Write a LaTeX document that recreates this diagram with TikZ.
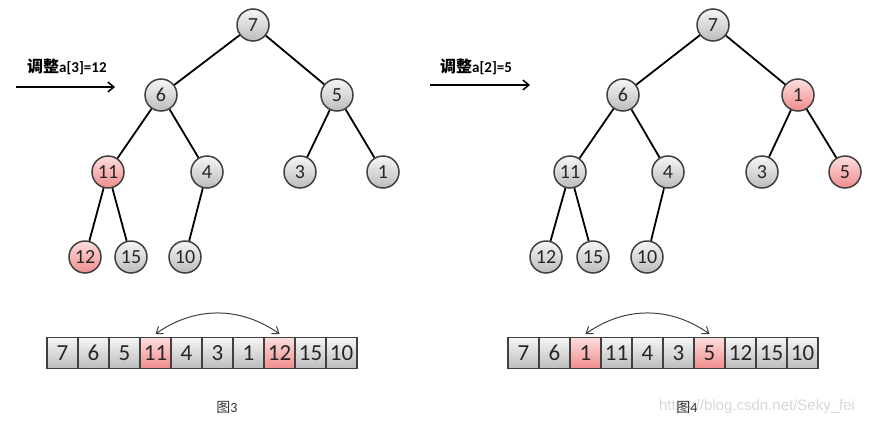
\documentclass[tikz,border=0pt]{standalone}
\usepackage{fontspec}
\setmainfont{Carlito}
\newfontfamily\cjk{Noto Sans CJK SC}
\newfontfamily\wmfont{Liberation Sans}
\usepackage{tikz}
\usetikzlibrary{arrows.meta,positioning,calc}
\definecolor{NodeEdge}{RGB}{ 64,  64,  64}
\definecolor{GrayTop} {RGB}{246, 246, 246}
\definecolor{GrayBot} {RGB}{188, 188, 188}
\definecolor{PinkTop} {RGB}{253, 222, 222}
\definecolor{PinkBot} {RGB}{240, 140, 140}
\definecolor{MarkGray}{RGB}{215, 215, 215}

\tikzset{
  heapnode/.style={circle, draw=NodeEdge, line width=1.5pt, minimum size=32pt,
    inner sep=0pt, top color=GrayTop, bottom color=GrayBot,
    font=\fontsize{20}{20}\selectfont, text=black!85},
  hotnode/.style={heapnode, top color=PinkTop, bottom color=PinkBot},
  cell/.style={rectangle, draw=NodeEdge, line width=1.1pt, minimum width=31pt,
    minimum height=31pt, inner sep=0pt, top color=GrayTop, bottom color=GrayBot,
    font=\fontsize{23}{23}\selectfont, text=black!85},
  hotcell/.style={cell, top color=PinkTop, bottom color=PinkBot},
  tree/.style={line width=1.8pt},
  swap/.style={{Straight Barb[length=6pt,width=9pt]}-{Straight Barb[length=6pt,width=9pt]},
    line width=1pt, draw=black!75, bend left=35},
  stepnote/.style={anchor=west, inner sep=0pt, font=\bfseries},
  caption/.style={inner sep=0pt, text=black!80, font=\fontsize{14}{14}\selectfont},
}

\begin{document}
\begin{tikzpicture}[x=1pt, y=-1pt]
  \useasboundingbox (0,0) rectangle (869,423);

  % Figure 3: tree after a[3]=12
  \node[stepnote] (lnote) at (27,67)
    {{\cjk\fontsize{16}{16}\selectfont 调整}\fontsize{15}{15}\selectfont a[3]=12};
  \coordinate (lfrom) at (16,87);
  \coordinate (lto) at (115,87);
  \draw[-{Straight Barb[length=6pt,width=10pt]}, line width=1.5pt] (lfrom) -- (lto);

  \node[heapnode] (l7)  at (253,25)  {7};
  \node[heapnode] (l6)  at (161,95)  {6};
  \node[heapnode] (l5)  at (337,95)  {5};
  \node[hotnode]  (l11) at (108,172) {11};
  \node[heapnode] (l4)  at (207,172) {4};
  \node[heapnode] (l3)  at (300,172) {3};
  \node[heapnode] (l1)  at (383,172) {1};
  \node[hotnode]  (l12) at (85,257)  {12};
  \node[heapnode] (l15) at (131,257) {15};
  \node[heapnode] (l10) at (185,257) {10};

  \draw[tree] (l7) -- (l6);   \draw[tree] (l7) -- (l5);
  \draw[tree] (l6) -- (l11);  \draw[tree] (l6) -- (l4);
  \draw[tree] (l5) -- (l3);   \draw[tree] (l5) -- (l1);
  \draw[tree] (l11) -- (l12); \draw[tree] (l11) -- (l15);
  \draw[tree] (l4) -- (l10);

  \foreach \v/\s [count=\i from 0] in
      {7/cell,6/cell,5/cell,11/hotcell,4/cell,3/cell,1/cell,12/hotcell,15/cell,10/cell}
    \node[\s] (la\i) at ({62.5+31*\i},353) {\v};
  \draw[swap] ($(la3.north)+(0,-3)$) to ($(la7.north)+(0,-3)$);
  \node[caption] (lcap) at (227,407) {{\cjk 图}3};

  % Figure 4: tree after a[2]=5
  \node[stepnote] (rnote) at (440,67)
    {{\cjk\fontsize{16}{16}\selectfont 调整}\fontsize{15}{15}\selectfont a[2]=5};
  \coordinate (rfrom) at (430,85);
  \coordinate (rto) at (530,85);
  \draw[-{Straight Barb[length=6pt,width=10pt]}, line width=1.5pt] (rfrom) -- (rto);

  \node[heapnode] (r7)  at (713,25)  {7};
  \node[heapnode] (r6)  at (623,95)  {6};
  \node[hotnode]  (r1)  at (798,95)  {1};
  \node[heapnode] (r11) at (570,172) {11};
  \node[heapnode] (r4)  at (668,172) {4};
  \node[heapnode] (r3)  at (762,172) {3};
  \node[hotnode]  (r5)  at (845,172) {5};
  \node[heapnode] (r12) at (546,257) {12};
  \node[heapnode] (r15) at (593,257) {15};
  \node[heapnode] (r10) at (647,257) {10};

  \draw[tree] (r7) -- (r6);   \draw[tree] (r7) -- (r1);
  \draw[tree] (r6) -- (r11);  \draw[tree] (r6) -- (r4);
  \draw[tree] (r1) -- (r3);   \draw[tree] (r1) -- (r5);
  \draw[tree] (r11) -- (r12); \draw[tree] (r11) -- (r15);
  \draw[tree] (r4) -- (r10);

  \foreach \v/\s [count=\i from 0] in
      {7/cell,6/cell,1/hotcell,11/cell,4/cell,3/cell,5/hotcell,12/cell,15/cell,10/cell}
    \node[\s] (ra\i) at ({523.5+31*\i},353) {\v};
  \draw[swap] ($(ra2.north)+(0,-3)$) to ($(ra6.north)+(0,-3)$);

  \node[inner sep=0pt, text=MarkGray, font=\wmfont\fontsize{15}{15}\selectfont]
    (mark) at (757,407) {https://blog.csdn.net/Seky\_fei};
  \node[caption] (rcap) at (687,407) {{\cjk 图}4};
\end{tikzpicture}
\end{document}
